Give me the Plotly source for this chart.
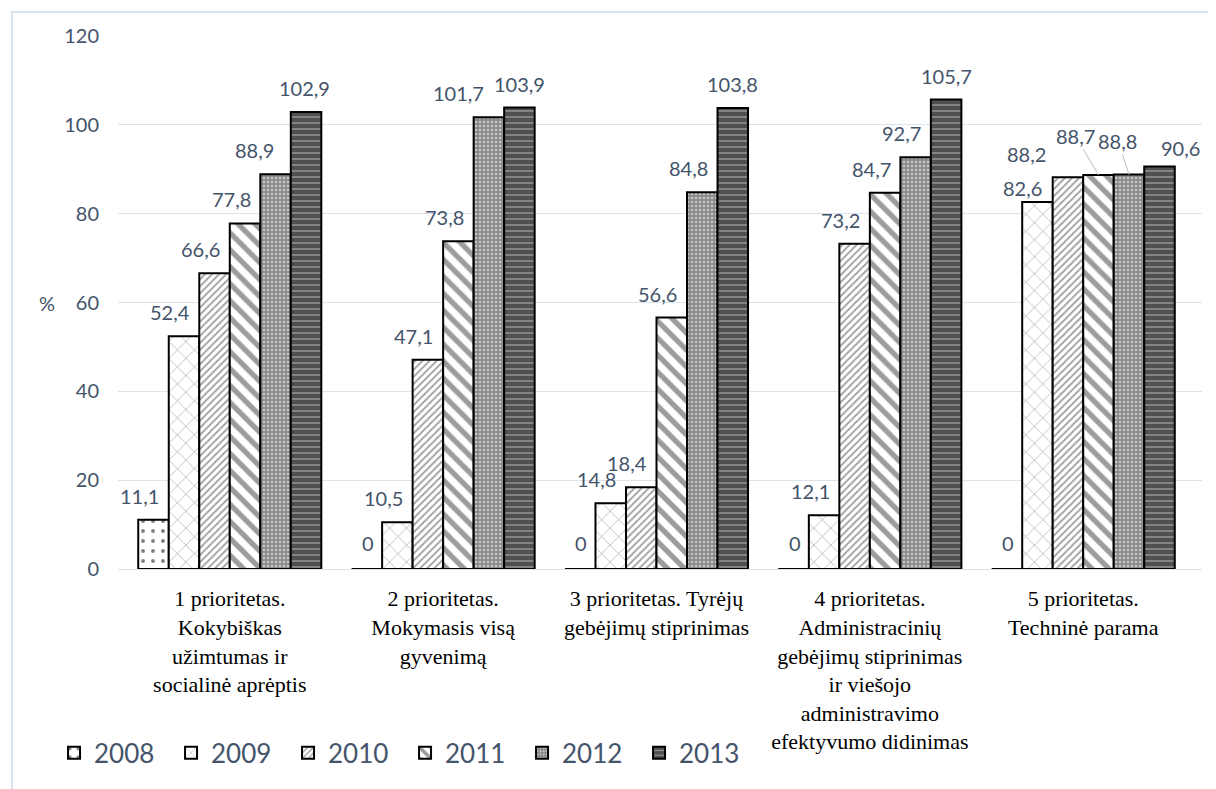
import plotly.graph_objects as go

categories = [
    "1 prioritetas.<br>Kokybiškas<br>užimtumas ir<br>socialinė aprėptis",
    "2 prioritetas.<br>Mokymasis visą<br>gyvenimą",
    "3 prioritetas. Tyrėjų<br>gebėjimų stiprinimas",
    "4 prioritetas.<br>Administracinių<br>gebėjimų stiprinimas<br>ir viešojo<br>administravimo<br>efektyvumo didinimas",
    "5 prioritetas.<br>Techninė parama",
]
years = ["2008", "2009", "2010", "2011", "2012", "2013"]
v2008 = [11.1, 0, 0, 0, 0]
v2009 = [52.4, 10.5, 14.8, 12.1, 82.6]
v2010 = [66.6, 47.1, 18.4, 73.2, 88.2]
v2011 = [77.8, 73.8, 56.6, 84.7, 88.7]
v2012 = [88.9, 101.7, 84.8, 92.7, 88.8]
v2013 = [102.9, 103.9, 103.8, 105.7, 90.6]
series = [v2008, v2009, v2010, v2011, v2012, v2013]

patterns = [
    dict(shape=".", fgcolor="#000000", bgcolor="#ffffff", size=10, solidity=0.12),
    dict(shape="x", fgcolor="#404040", bgcolor="#ffffff", size=12, solidity=0.1),
    dict(shape="/", fgcolor="#404040", bgcolor="#ffffff", size=5, solidity=0.35),
    dict(shape="\\", fgcolor="#3a3a3a", bgcolor="#ffffff", size=12, solidity=0.45),
    dict(shape=".", fgcolor="#ffffff", bgcolor="#8a8a8a", size=4, solidity=0.35),
    dict(shape="-", fgcolor="#d8d8d8", bgcolor="#505050", size=6, solidity=0.25),
]

BARGAP = 0.142
TXT = "#44546A"
GRID = "#DCE3EA"
SERIF = "Liberation Serif, DejaVu Serif, Times New Roman, serif"

fig = go.Figure()
for name, vals, pat in zip(years, series, patterns):
    fig.add_trace(go.Bar(
        name=name, x=categories, y=vals,
        marker=dict(color=pat["bgcolor"], pattern=pat,
                    line=dict(color="#000000", width=2)),
        hoverinfo="skip",
    ))

# label offsets in pixels (styling)
default_off = (-14, -24)
last_off = (0, -24)
zero_off = (1, -26)
special = {
    (0, 4): (-21, -24, False),
    (0, 5): (-2, -24, False),
    (1, 4): (-30, -24, False),
    (4, 1): (-15, -14, False),
    (4, 2): (-41, -23, False),
    (4, 3): (-23, -39, True),
    (4, 4): (-11, -34, True),
    (4, 5): (21, -19, False),
}
w = (1 - BARGAP) / len(years)
for j, vals in enumerate(series):
    for i, v in enumerate(vals):
        xc = i + (j - (len(years) - 1) / 2) * w
        lead = False
        if (i, j) in special:
            dx, dy, lead = special[(i, j)]
        elif v == 0:
            dx, dy = zero_off
        elif j == len(years) - 1:
            dx, dy = last_off
        else:
            dx, dy = default_off
        txt = "0" if v == 0 else f"{v:.1f}".replace(".", ",")
        fig.add_annotation(
            x=xc, y=v, xref="x", yref="y", text=txt,
            showarrow=True, ax=dx, ay=dy, axref="pixel", ayref="pixel",
            arrowhead=0, arrowwidth=1, standoff=0,
            arrowcolor="#B4C0CC" if lead else "rgba(0,0,0,0)",
            font=dict(family="Lato", size=20, color=TXT),
        )

fig.add_annotation(x=-0.075, y=60, xref="paper", yref="y", text="%",
                   showarrow=False, font=dict(family="Lato", size=20, color=TXT))

fig.add_shape(type="rect", xref="paper", yref="paper",
              x0=-0.0978, x1=1.03, y0=-0.45, y1=1.045,
              line=dict(color="#D9E2EA", width=2), fillcolor="rgba(0,0,0,0)",
              layer="below")

fig.update_layout(
    width=1208, height=781,
    margin=dict(l=110, r=14, t=28, b=220),
    paper_bgcolor="#ffffff", plot_bgcolor="#ffffff",
    barmode="group", bargap=BARGAP, bargroupgap=0,
    showlegend=True,
    legend=dict(orientation="h", x=-0.059, xanchor="left", y=-0.345, yanchor="middle",
                font=dict(family="Lato", size=26, color=TXT),
                entrywidth=72, entrywidthmode="pixels", traceorder="normal",
                itemclick=False, itemdoubleclick=False),
    xaxis=dict(type="category", showgrid=False, showline=True, linecolor=GRID, linewidth=1,
               ticks="outside", ticklen=10, tickcolor="rgba(0,0,0,0)",
               tickfont=dict(family=SERIF, size=22, color="#000000")),
    yaxis=dict(range=[0, 120], dtick=20, showgrid=True, gridcolor=GRID, gridwidth=1,
               zeroline=False, showline=False,
               ticks="outside", ticklen=14, tickcolor="rgba(0,0,0,0)",
               tickfont=dict(family="Lato", size=20, color=TXT)),
)

fig.write_html("out.html")
